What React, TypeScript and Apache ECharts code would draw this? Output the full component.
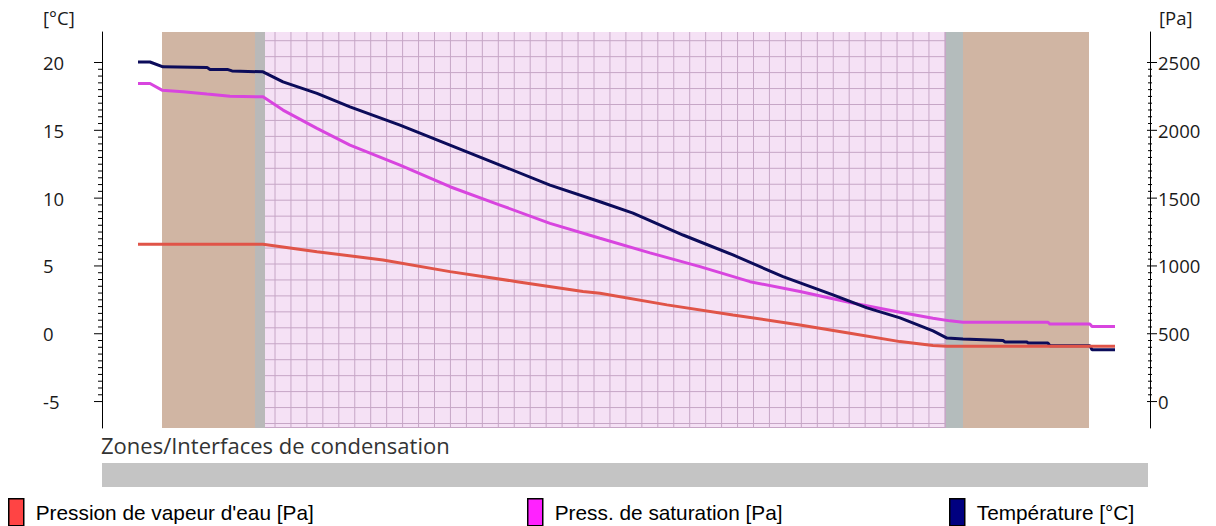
import React, { useEffect, useRef } from "react";
import * as echarts from "echarts";

// ---- wall layers (position along the wall, arbitrary units) ----
const layerStart = [0, 93, 103, 784, 801];
const layerEnd = [93, 103, 784, 801, 927];
const layerKind = ["masonry", "membraneIn", "insulation", "membraneOut", "masonry"];

// ---- temperature [°C] ----
const tempX = [-24, -12, 1, 45, 48, 66, 70, 101, 121, 155, 188, 238, 288, 338, 388, 438, 471, 521, 571, 621, 671, 705, 738, 771, 785, 801, 841, 843, 865, 866, 886, 888, 928, 930, 953];
const tempValues = [20.04, 20.04, 19.68, 19.64, 19.48, 19.48, 19.38, 19.31, 18.57, 17.72, 16.73, 15.38, 13.91, 12.44, 10.96, 9.73, 8.9, 7.28, 5.81, 4.21, 2.86, 1.91, 1.17, 0.21, -0.32, -0.38, -0.5, -0.6, -0.6, -0.69, -0.69, -0.89, -0.89, -1.18, -1.18];

// ---- saturation pressure [Pa] ----
const satX = [-24, -12, 0, 21, 45, 68, 101, 121, 155, 188, 238, 288, 338, 388, 438, 488, 538, 588, 638, 688, 738, 771, 788, 801, 886, 888, 928, 930, 953];
const satValues = [2345, 2345, 2296, 2284, 2267, 2252, 2247, 2149, 2014, 1891, 1744, 1584, 1449, 1314, 1204, 1096, 995, 884, 811, 731, 658, 615, 595, 585, 585, 571, 571, 553, 553];

// ---- vapour pressure [Pa] ----
const vapX = [-24, 101, 155, 221, 288, 355, 421, 438, 505, 571, 638, 688, 738, 771, 785, 953];
const vapValues = [1160, 1160, 1105, 1044, 958, 884, 811, 799, 713, 639, 565, 504, 442, 413, 407, 407];

// ---- axes ----
const xMin = -60;
const xMax = 988;
const tempMin = -6.95;
const tempMax = 22.25;
const paMin = -195;
const paMax = 2725;
const tempMajorTicks = [-5, 0, 5, 10, 15, 20];
const paMajorTicks = [0, 500, 1000, 1500, 2000, 2500];
const minorPerMajor = 10;

const nameVap = "Pression de vapeur d'eau [Pa]";
const nameSat = "Press. de saturation [Pa]";
const nameTemp = "Température [°C]";
const zonesTitle = "Zones/Interfaces de condensation";

const layerFill: Record<string, string> = {
  masonry: "#d0b5a3",
  membraneIn: "#b9b9b9",
  insulation: "#f5e1f5",
  membraneOut: "#b4bcbc",
};

function buildTicks(majors: number[], xPos: number) {
  const out: number[][] = [];
  for (let i = 0; i < majors.length - 1; i++) {
    const step = (majors[i + 1] - majors[i]) / minorPerMajor;
    for (let k = 0; k < minorPerMajor; k++) out.push([xPos, majors[i] + k * step, k === 0 ? 1 : 0]);
  }
  out.push([xPos, majors[majors.length - 1], 1]);
  return out;
}

export default function App() {
  const ref = useRef<HTMLDivElement>(null);
  useEffect(() => {
    document.body.style.margin = "0";
    const chart = echarts.init(ref.current!, null, { renderer: "svg" });
    const axisFont = { fontFamily: "Open Sans", fontSize: 18.5, color: "#1a1a1a" };
    const fmt5 = (step: number) => (v: number) =>
      Math.abs(v / step - Math.round(v / step)) < 1e-6 ? String(Math.round(v)) : "";

    const layerData = layerStart.map((s, i) => [s, layerEnd[i], i]);

    const legendCommon = {
      icon: "rect",
      itemWidth: 15,
      itemHeight: 27,
      padding: 0,
      selectedMode: false,
      orient: "horizontal",
      itemStyle: { borderColor: "#000", borderWidth: 1.5 },
      textStyle: { fontFamily: "Liberation Sans", fontSize: 20.8, color: "#000", padding: [0, 0, 0, 7] },
      top: 498,
    };

    chart.setOption({
      animation: false,
      grid: { left: 102, right: 66, top: 32, bottom: 98 },
      xAxis: { type: "value", min: xMin, max: xMax, show: false },
      yAxis: [
        {
          type: "value",
          min: tempMin,
          max: tempMax,
          position: "left",
          axisLine: { show: true, onZero: false, lineStyle: { color: "#000", width: 1 } },
          axisTick: { show: false },
          splitLine: { show: false },
          axisLabel: { ...axisFont, align: "left", margin: 59, formatter: fmt5(5) },
          z: 8,
        },
        {
          type: "value",
          min: paMin,
          max: paMax,
          position: "right",
          axisLine: { show: true, onZero: false, lineStyle: { color: "#000", width: 1 } },
          axisTick: { show: false },
          splitLine: { show: false },
          axisLabel: { ...axisFont, align: "left", margin: 8, formatter: fmt5(500) },
          z: 8,
        },
      ],
      legend: [
        { ...legendCommon, left: 8, data: [{ name: nameVap, itemStyle: { color: "#ff4444" } }] },
        { ...legendCommon, left: 527, data: [{ name: nameSat, itemStyle: { color: "#ff22ff" } }] },
        { ...legendCommon, left: 949, data: [{ name: nameTemp, itemStyle: { color: "#000080" } }] },
      ],
      graphic: [
        { type: "text", left: 43, top: 8, style: { text: "[°C]", fontFamily: "Open Sans", fontSize: 18.5, fill: "#1a1a1a" } },
        { type: "text", left: 1159, top: 8, style: { text: "[Pa]", fontFamily: "Open Sans", fontSize: 18.5, fill: "#1a1a1a" } },
        { type: "text", left: 101, top: 434, style: { text: zonesTitle, fontFamily: "Open Sans", fontSize: 22, fill: "#333" } },
        { type: "rect", shape: { x: 102, y: 463, width: 1046, height: 24 }, style: { fill: "#c4c4c4" } },
      ],
      series: [
        {
          type: "custom",
          name: "layers",
          xAxisIndex: 0,
          yAxisIndex: 0,
          silent: true,
          z: 1,
          encode: { x: [0, 1] },
          data: layerData,
          renderItem: (params: any, api: any) => {
            const a = api.coord([api.value(0), tempMax]);
            const b = api.coord([api.value(1), tempMin]);
            const kind = layerKind[api.value(2)];
            const rect = {
              type: "rect",
              shape: { x: a[0], y: a[1], width: b[0] - a[0], height: b[1] - a[1] },
              style: { fill: layerFill[kind] },
            };
            if (kind !== "insulation") return rect;
            const children: any[] = [rect];
            const lineStyle = { stroke: "#c6a6c6", lineWidth: 1 };
            const cell = 15.95;
            for (let x = a[0] + 10; x < b[0] - 1; x += cell) {
              children.push({ type: "line", shape: { x1: x, y1: a[1], x2: x, y2: b[1] }, style: lineStyle });
            }
            for (let y = a[1] + 8.7; y < b[1] - 1; y += cell) {
              children.push({ type: "line", shape: { x1: a[0], y1: y, x2: b[0], y2: y }, style: lineStyle });
            }
            children.push({ type: "line", shape: { x1: b[0] - 0.5, y1: a[1], x2: b[0] - 0.5, y2: b[1] }, style: lineStyle });
            children.push({ type: "line", shape: { x1: a[0], y1: b[1] - 0.5, x2: b[0], y2: b[1] - 0.5 }, style: lineStyle });
            return { type: "group", children };
          },
        },
        {
          type: "custom",
          name: "tempTicks",
          xAxisIndex: 0,
          yAxisIndex: 0,
          silent: true,
          z: 6,
          encode: { x: 0, y: 1 },
          data: buildTicks(tempMajorTicks, xMin),
          renderItem: (params: any, api: any) => {
            const p = api.coord([api.value(0), api.value(1)]);
            const len = api.value(2) ? 8 : 4;
            return { type: "line", shape: { x1: p[0] - len, y1: p[1], x2: p[0], y2: p[1] }, style: { stroke: "#000", lineWidth: 1 } };
          },
        },
        {
          type: "custom",
          name: "paTicks",
          xAxisIndex: 0,
          yAxisIndex: 1,
          silent: true,
          z: 6,
          encode: { x: 0, y: 1 },
          data: buildTicks(paMajorTicks, xMax),
          renderItem: (params: any, api: any) => {
            const p = api.coord([api.value(0), api.value(1)]);
            const major = api.value(2) === 1;
            return {
              type: "line",
              shape: { x1: p[0] - (major ? 3 : 2), y1: p[1], x2: p[0] + (major ? 7 : 2), y2: p[1] },
              style: { stroke: "#000", lineWidth: 1 },
            };
          },
        },
        {
          type: "line",
          name: nameSat,
          yAxisIndex: 1,
          showSymbol: false,
          z: 3,
          color: "#d845df",
          lineStyle: { color: "#d845df", width: 3 },
          data: satX.map((x, i) => [x, satValues[i]]),
        },
        {
          type: "line",
          name: nameTemp,
          yAxisIndex: 0,
          showSymbol: false,
          z: 4,
          color: "#0c0c5a",
          lineStyle: { color: "#0c0c5a", width: 3 },
          data: tempX.map((x, i) => [x, tempValues[i]]),
        },
        {
          type: "line",
          name: nameVap,
          yAxisIndex: 1,
          showSymbol: false,
          z: 5,
          color: "#e05448",
          lineStyle: { color: "#e05448", width: 3 },
          data: vapX.map((x, i) => [x, vapValues[i]]),
        },
      ],
    });
    return () => chart.dispose();
  }, []);
  return <div ref={ref} style={{ width: 1216, height: 526 }} />;
}
